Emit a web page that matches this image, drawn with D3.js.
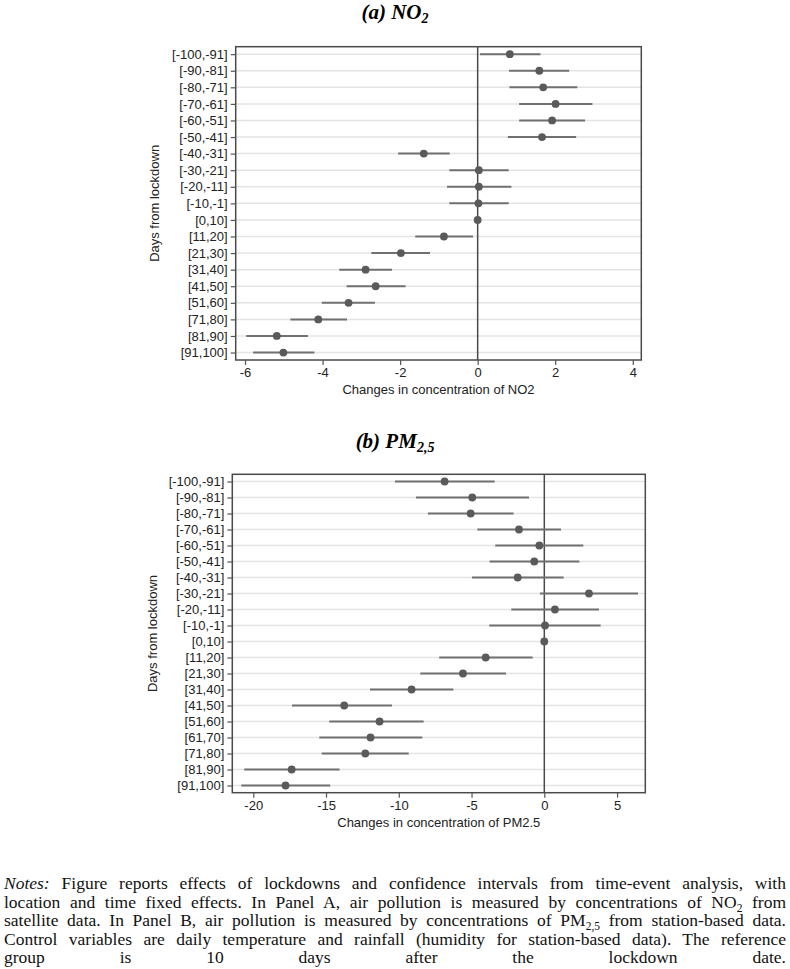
<!DOCTYPE html>
<html>
<head>
<meta charset="utf-8">
<script src="https://cdn.jsdelivr.net/npm/d3@7"></script>
<style>
  body { margin: 0; background: #fff; }
  svg { display: block; }
  .tick text { font-family: "Liberation Sans", Arial, sans-serif; }
</style>
</head>
<body>
<div id="chart"></div>
<script>
// panel A: NO2
const periodsA = ["[-100,-91]", "[-90,-81]", "[-80,-71]", "[-70,-61]", "[-60,-51]", "[-50,-41]", "[-40,-31]",
  "[-30,-21]", "[-20,-11]", "[-10,-1]", "[0,10]", "[11,20]", "[21,30]", "[31,40]", "[41,50]", "[51,60]",
  "[71,80]", "[81,90]", "[91,100]"];
const estA  = [0.83, 1.59, 1.69, 2.01, 1.92, 1.66, -1.39, 0.03, 0.03, 0.02, 0, -0.87, -1.98, -2.89, -2.63, -3.33, -4.11, -5.18, -5.01];
const lowA  = [0.06, 0.81, 0.82, 1.07, 1.07, 0.78, -2.05, -0.73, -0.79, -0.73, 0, -1.61, -2.74, -3.57, -3.38, -4.02, -4.83, -5.97, -5.79];
const highA = [1.62, 2.36, 2.57, 2.96, 2.77, 2.54, -0.72, 0.80, 0.87, 0.80, 0, -0.12, -1.23, -2.21, -1.86, -2.65, -3.37, -4.38, -4.21];
const ticksA = [-6, -4, -2, 0, 2, 4];

// panel B: PM2.5
const periodsB = ["[-100,-91]", "[-90,-81]", "[-80,-71]", "[-70,-61]", "[-60,-51]", "[-50,-41]", "[-40,-31]",
  "[-30,-21]", "[-20,-11]", "[-10,-1]", "[0,10]", "[11,20]", "[21,30]", "[31,40]", "[41,50]", "[51,60]",
  "[61,70]", "[71,80]", "[81,90]", "[91,100]"];
const estB  = [-6.85, -4.95, -5.06, -1.74, -0.34, -0.69, -1.83, 3.07, 0.73, 0.05, 0, -4.03, -5.59, -9.12, -13.75, -11.32, -11.94, -12.30, -17.36, -17.78];
const lowB  = [-10.26, -8.82, -8.00, -4.60, -3.37, -3.76, -4.97, -0.30, -2.27, -3.78, 0, -7.22, -8.52, -11.98, -17.34, -14.78, -15.46, -15.30, -20.62, -20.82];
const highB = [-3.41, -1.05, -2.11, 1.15, 2.68, 2.41, 1.33, 6.44, 3.76, 3.87, 0, -0.80, -2.63, -6.25, -10.47, -8.29, -8.38, -9.32, -14.07, -14.71];
const ticksB = [-20, -15, -10, -5, 0, 5];

const W = 790, H = 969;
const svg = d3.select("#chart").append("svg").attr("width", W).attr("height", H);

const sans = '"Liberation Sans", Arial, Helvetica, sans-serif';
const serif = '"Liberation Serif", "Times New Roman", Times, serif';

function drawPanel(o) {
  const g = svg.append("g");
  const x = d3.scaleLinear().domain(o.xDomain).range([o.left, o.right]);
  const y = d3.scalePoint().domain(o.periods).range([o.top, o.bottom]).padding(0.45);

  // title
  const t = g.append("text")
    .attr("x", o.titleX).attr("y", o.titleY)
    .attr("text-anchor", "middle")
    .style("font-family", serif).style("font-size", "21px")
    .style("font-weight", "bold").style("font-style", "italic");
  t.append("tspan").text(o.title);
  t.append("tspan").attr("dy", 4).style("font-size", "14px").text(o.titleSub);

  // gridlines
  g.append("g").selectAll("line").data(o.periods).join("line")
    .attr("x1", o.left).attr("x2", o.right)
    .attr("y1", d => y(d)).attr("y2", d => y(d))
    .attr("stroke", "#e4e4e4").attr("stroke-width", 1.5);

  // zero line
  g.append("line")
    .attr("x1", x(0)).attr("x2", x(0)).attr("y1", o.top).attr("y2", o.bottom)
    .attr("stroke", "#4a4a4a").attr("stroke-width", 1.5);

  // confidence intervals
  g.append("g").selectAll("line").data(o.periods).join("line")
    .attr("x1", (d, i) => x(o.low[i])).attr("x2", (d, i) => x(o.high[i]))
    .attr("y1", d => y(d)).attr("y2", d => y(d))
    .attr("stroke", "#707070").attr("stroke-width", 2);

  // point estimates
  g.append("g").selectAll("circle").data(o.periods).join("circle")
    .attr("cx", (d, i) => x(o.est[i])).attr("cy", d => y(d)).attr("r", 3.9)
    .attr("fill", "#5a5a5a");

  // frame
  g.append("rect")
    .attr("x", o.left).attr("y", o.top)
    .attr("width", o.right - o.left).attr("height", o.bottom - o.top)
    .attr("fill", "none").attr("stroke", "#4a4a4a").attr("stroke-width", 1.5);

  // axes (plain hyphen minus like the original)
  const ax = g.append("g").attr("transform", "translate(0," + o.bottom + ")")
    .call(d3.axisBottom(x).tickValues(o.ticks).tickFormat(d => String(d)).tickSize(5).tickPadding(3));
  ax.select(".domain").remove();
  ax.selectAll(".tick line").attr("stroke", "#555").attr("stroke-width", 1.2);
  ax.selectAll(".tick text").style("font-size", "13px").attr("fill", "#222");

  const ay = g.append("g").attr("transform", "translate(" + o.left + ",0)")
    .call(d3.axisLeft(y).tickSize(5).tickPadding(3));
  ay.select(".domain").remove();
  ay.selectAll(".tick line").attr("stroke", "#555").attr("stroke-width", 1.2);
  ay.selectAll(".tick text").style("font-size", "13px").attr("fill", "#222");

  // axis titles
  g.append("text")
    .attr("x", (o.left + o.right) / 2).attr("y", o.bottom + 34)
    .attr("text-anchor", "middle")
    .style("font-family", sans).style("font-size", "13px").attr("fill", "#222")
    .text(o.xTitle);
  g.append("text")
    .attr("transform", "translate(" + o.yTitleX + "," + (o.top + o.bottom) / 2 + ") rotate(-90)")
    .attr("text-anchor", "middle")
    .style("font-family", sans).style("font-size", "13px").attr("fill", "#222")
    .text("Days from lockdown");
}

drawPanel({
  title: "(a) NO", titleSub: "2", titleX: 395, titleY: 19,
  periods: periodsA, est: estA, low: lowA, high: highA, ticks: ticksA,
  xDomain: [-6.24, 4.22], left: 235.7, right: 641.3, top: 46.7, bottom: 360,
  xTitle: "Changes in concentration of NO2", yTitleX: 159
});

drawPanel({
  title: "(b) PM", titleSub: "2,5", titleX: 395, titleY: 448,
  periods: periodsB, est: estB, low: lowB, high: highB, ticks: ticksB,
  xDomain: [-21.44, 6.94], left: 232.3, right: 645.3, top: 474.3, bottom: 792.7,
  xTitle: "Changes in concentration of PM2.5", yTitleX: 157
});

// notes, each line justified to the full width
const noteLines = [
  [["Notes:", "i"], [" Figure reports effects of lockdowns and confidence intervals from time-event analysis, with", ""]],
  [["location and time fixed effects. In Panel A, air pollution is measured by concentrations of NO", ""], ["2", "s"], [" from", ""]],
  [["satellite data. In Panel B, air pollution is measured by concentrations of PM", ""], ["2,5", "s"], [" from station-based data.", ""]],
  [["Control variables are daily temperature and rainfall (humidity for station-based data). The reference", ""]],
  [["group is 10 days after the lockdown date.", ""]]
];
const noteLeft = 4, noteRight = 786, noteY0 = 889, noteStep = 18.5;

noteLines.forEach((segs, li) => {
  const t = svg.append("text")
    .attr("x", noteLeft).attr("y", noteY0 + li * noteStep)
    .style("font-family", serif).style("font-size", "17.5px").attr("fill", "#111");
  let shift = 0;
  segs.forEach(([s, k]) => {
    const sp = t.append("tspan").text(s);
    if (k === "i") sp.style("font-style", "italic");
    const want = k === "s" ? 4 : 0;
    if (k === "s") sp.style("font-size", "11.5px");
    if (want !== shift) { sp.attr("dy", want - shift); shift = want; }
  });
  const natural = t.node().getComputedTextLength();
  const full = segs.map(q => q[0]).join("");
  const spaces = (full.match(/ /g) || []).length;
  t.attr("word-spacing", (noteRight - noteLeft - natural) / spaces);
});
</script>
</body>
</html>
